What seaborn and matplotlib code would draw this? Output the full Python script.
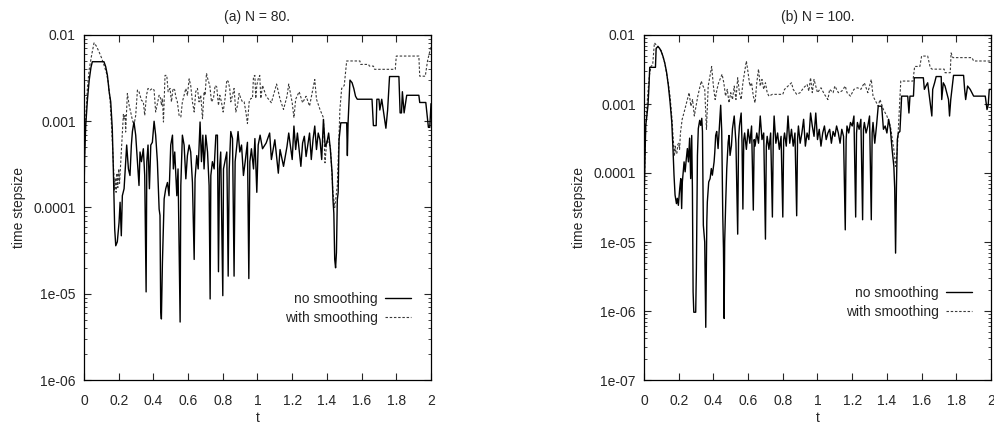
import numpy as np
import pandas as pd
import matplotlib
matplotlib.use("Agg")
import matplotlib.pyplot as plt
from matplotlib.ticker import FixedLocator, LogLocator, NullFormatter
from matplotlib.lines import Line2D
import seaborn as sns

# ---------------- data ----------------
# Panel (a) N = 80, no smoothing
a_ns_t = [0.000, 0.004, 0.010, 0.020, 0.030, 0.040, 0.048, 0.115, 0.125, 0.135, 0.145, 0.154,
          0.163, 0.169, 0.177, 0.183, 0.192, 0.202, 0.208, 0.215, 0.221, 0.231, 0.240, 0.246,
          0.256, 0.265, 0.273, 0.279, 0.288, 0.298, 0.308, 0.317, 0.323, 0.331, 0.342, 0.350,
          0.358, 0.362, 0.369, 0.377, 0.385, 0.394, 0.404, 0.413, 0.423, 0.433, 0.438, 0.442,
          0.446, 0.452, 0.462, 0.471, 0.481, 0.490, 0.500, 0.510, 0.515, 0.523, 0.535, 0.542,
          0.550, 0.554, 0.558, 0.567, 0.577, 0.587, 0.596, 0.606, 0.615, 0.625, 0.635, 0.640,
          0.650, 0.658, 0.669, 0.677, 0.685, 0.692, 0.702, 0.712, 0.721, 0.727, 0.731, 0.740,
          0.750, 0.760, 0.769, 0.775, 0.781, 0.788, 0.800, 0.804, 0.812, 0.823, 0.831, 0.837,
          0.846, 0.856, 0.865, 0.871, 0.881, 0.888, 0.898, 0.908, 0.919, 0.929, 0.942, 0.950,
          0.956, 0.965, 0.977, 0.985, 0.996, 1.004, 1.015, 1.029, 1.05, 1.07, 1.08, 1.10,
          1.12, 1.13, 1.15, 1.17, 1.18, 1.20, 1.21, 1.22, 1.23, 1.25, 1.26, 1.27,
          1.28, 1.30, 1.31, 1.32, 1.33, 1.34, 1.35, 1.36, 1.37, 1.38, 1.39, 1.40,
          1.41, 1.42, 1.43, 1.435, 1.44, 1.445, 1.45, 1.455, 1.46, 1.465, 1.47, 1.48,
          1.514, 1.518, 1.522, 1.533, 1.545, 1.555, 1.565, 1.575, 1.66, 1.668, 1.684, 1.688,
          1.70, 1.705, 1.716, 1.725, 1.74, 1.75, 1.761, 1.815, 1.822, 1.83, 1.835, 1.845,
          1.86, 1.93, 1.935, 1.97, 1.985, 1.993, 2.0]
a_ns_y = [1.5e-4, 4e-4, 9e-4, 1.8e-3, 3.0e-3, 4.2e-3, 4.9e-3, 4.9e-3, 4.3e-3, 3.4e-3, 2.2e-3, 1.68e-3,
          8.2e-4, 2.8e-4, 5.6e-5, 3.6e-5, 4.0e-5, 6.7e-5, 1.15e-4, 4.7e-5, 1.37e-4, 1.65e-4, 3.4e-4, 5.3e-4,
          2.8e-4, 2.35e-4, 5.3e-4, 7.6e-4, 9.8e-4, 6.9e-4, 3.4e-4, 1.8e-4, 4.4e-4, 3.4e-4, 4.8e-4, 2.35e-4,
          1.05e-5, 3.4e-4, 5.3e-4, 1.65e-4, 5.3e-4, 5.7e-4, 1.0e-3, 6.9e-4, 3.4e-4, 9.6e-5, 8.1e-5, 6.6e-6,
          5.1e-6, 2.3e-5, 1.26e-4, 1.65e-4, 1.95e-4, 1.37e-4, 5.3e-4, 6.9e-4, 2.8e-4, 4.4e-4, 1.37e-4, 2.8e-4,
          2.1e-5, 4.7e-6, 1.8e-4, 6.9e-4, 5.3e-4, 2.15e-4, 4.0e-4, 5.3e-4, 4.4e-4, 1.95e-4, 2.5e-5, 2.15e-4,
          4.0e-4, 2.8e-4, 9.8e-4, 3.4e-4, 6.9e-4, 2.8e-4, 6.9e-4, 4.4e-4, 1.8e-4, 8.7e-6, 2.35e-4, 3.4e-4,
          2.8e-4, 6.9e-4, 6.9e-4, 1.8e-5, 2.8e-4, 4.4e-4, 9.5e-6, 2.8e-4, 3.4e-4, 4.4e-4, 1.6e-5, 2.8e-4,
          7.6e-4, 6.3e-4, 1.6e-5, 3.4e-4, 5.3e-4, 7.6e-4, 4.4e-4, 5.3e-4, 2.35e-4, 3.4e-4, 5.7e-4, 1.5e-5,
          3.4e-4, 4.8e-4, 2.8e-4, 6.3e-4, 1.5e-4, 5.3e-4, 6.9e-4, 4.8e-4, 5.6e-4, 7.3e-4, 3.6e-4, 6.1e-4,
          2.5e-4, 4.7e-4, 3.0e-4, 5.1e-4, 7.3e-4, 3.6e-4, 8.8e-4, 4.7e-4, 7.3e-4, 3.0e-4, 5.6e-4, 6.7e-4,
          3.9e-4, 7.3e-4, 3.6e-4, 6.1e-4, 8.8e-4, 4.7e-4, 7.3e-4, 6.1e-4, 3.6e-4, 1.05e-3, 5.1e-4, 5.6e-4,
          7.3e-4, 4.7e-4, 2.5e-4, 1.23e-4, 8.6e-5, 2.5e-5, 2.0e-5, 3.0e-5, 1.23e-4, 1.5e-4, 6.1e-4, 9.6e-4,
          9.6e-4, 4.0e-4, 9.6e-4, 3.0e-3, 2.8e-3, 2.4e-3, 1.95e-3, 1.8e-3, 1.8e-3, 8.9e-4, 8.9e-4, 1.8e-3,
          1.8e-3, 1.35e-3, 1.8e-3, 1.35e-3, 8.3e-4, 1.35e-3, 3.3e-3, 3.3e-3, 1.25e-3, 1.25e-3, 2.2e-3, 1.25e-3,
          2.0e-3, 2.0e-3, 1.65e-3, 1.65e-3, 8.5e-4, 8.5e-4, 1.6e-3]

# Panel (a) N = 80, with smoothing
a_ws_t = [0.000, 0.004, 0.010, 0.020, 0.030, 0.045, 0.058, 0.070, 0.085, 0.100, 0.115, 0.130,
          0.140, 0.150, 0.160, 0.170, 0.175, 0.180, 0.185, 0.190, 0.195, 0.200, 0.205, 0.212,
          0.221, 0.227, 0.231, 0.237, 0.240, 0.250, 0.260, 0.269, 0.279, 0.288, 0.298, 0.308,
          0.317, 0.331, 0.342, 0.350, 0.360, 0.369, 0.381, 0.394, 0.404, 0.413, 0.423, 0.433,
          0.442, 0.446, 0.452, 0.458, 0.467, 0.477, 0.485, 0.496, 0.504, 0.513, 0.523, 0.529,
          0.538, 0.548, 0.558, 0.567, 0.577, 0.587, 0.596, 0.606, 0.615, 0.625, 0.635, 0.644,
          0.654, 0.663, 0.673, 0.683, 0.692, 0.698, 0.706, 0.715, 0.725, 0.735, 0.746, 0.756,
          0.765, 0.775, 0.783, 0.792, 0.802, 0.813, 0.823, 0.831, 0.840, 0.846, 0.856, 0.865,
          0.875, 0.885, 0.894, 0.904, 0.913, 0.923, 0.933, 0.942, 0.952, 0.962, 0.971, 0.977,
          0.985, 0.990, 0.996, 1.004, 1.013, 1.019, 1.029, 1.05, 1.08, 1.10, 1.11, 1.13,
          1.15, 1.17, 1.18, 1.20, 1.21, 1.22, 1.24, 1.26, 1.28, 1.30, 1.31, 1.33,
          1.34, 1.36, 1.38, 1.389, 1.40, 1.42, 1.435, 1.445, 1.45, 1.46, 1.47, 1.475,
          1.485, 1.50, 1.514, 1.59, 1.595, 1.64, 1.645, 1.668, 1.675, 1.794, 1.80, 1.93,
          1.935, 1.967, 1.98, 2.0]
a_ws_y = [1.5e-4, 5e-4, 1.1e-3, 2.5e-3, 4.0e-3, 6.0e-3, 8.1e-3, 7.5e-3, 6.5e-3, 5.5e-3, 4.5e-3, 3.6e-3,
          2.8e-3, 1.8e-3, 8.0e-4, 3.0e-4, 1.6e-4, 2.2e-4, 1.5e-4, 2.5e-4, 1.7e-4, 2.8e-4, 1.9e-4, 3.4e-4,
          6.9e-4, 1.2e-3, 1.07e-3, 1.17e-3, 7.5e-4, 2.1e-3, 1.53e-3, 1.28e-3, 1.03e-3, 9.0e-4, 1.17e-3, 2.3e-3,
          2.2e-3, 1.75e-3, 1.68e-3, 1.17e-3, 2.0e-3, 2.4e-3, 2.3e-3, 2.4e-3, 2.3e-3, 1.28e-3, 1.6e-3, 2.0e-3,
          1.84e-3, 1.53e-3, 1.84e-3, 9.8e-4, 3.4e-3, 3.4e-3, 2.2e-3, 2.4e-3, 1.68e-3, 2.4e-3, 2.3e-3, 1.92e-3,
          1.68e-3, 1.17e-3, 1.12e-3, 1.68e-3, 2.0e-3, 2.4e-3, 2.0e-3, 3.1e-3, 2.6e-3, 1.68e-3, 1.28e-3, 2.2e-3,
          2.4e-3, 1.68e-3, 2.0e-3, 1.07e-3, 2.2e-3, 2.0e-3, 3.6e-3, 3.0e-3, 2.6e-3, 1.68e-3, 1.84e-3, 2.6e-3,
          2.5e-3, 1.53e-3, 2.0e-3, 1.68e-3, 1.28e-3, 1.84e-3, 3.0e-3, 2.9e-3, 2.4e-3, 1.68e-3, 2.0e-3, 2.4e-3,
          1.28e-3, 1.53e-3, 2.1e-3, 1.84e-3, 1.68e-3, 1.68e-3, 1.28e-3, 9.4e-4, 1.68e-3, 1.84e-3, 1.84e-3, 3.3e-3,
          3.4e-3, 1.84e-3, 2.6e-3, 3.1e-3, 3.4e-3, 1.84e-3, 2.6e-3, 1.95e-3, 1.64e-3, 2.3e-3, 2.7e-3, 1.8e-3,
          1.37e-3, 1.95e-3, 2.7e-3, 1.64e-3, 1.1e-3, 1.8e-3, 2.2e-3, 1.64e-3, 1.95e-3, 1.5e-3, 1.9e-3, 3.05e-3,
          1.8e-3, 1.37e-3, 1.1e-3, 3.3e-4, 6.1e-4, 5.1e-4, 1.5e-4, 1.0e-4, 1.2e-4, 1.8e-4, 7.3e-4, 1.37e-3,
          2.4e-3, 2.6e-3, 5.0e-3, 5.0e-3, 4.56e-3, 4.56e-3, 4.36e-3, 4.36e-3, 4.0e-3, 4.0e-3, 5.7e-3, 5.7e-3,
          3.33e-3, 3.33e-3, 5.0e-3, 7.45e-3]

# Panel (b) N = 100, no smoothing
b_ns_t = [0.000, 0.010, 0.015, 0.023, 0.029, 0.033, 0.066, 0.070, 0.080, 0.090, 0.100, 0.110,
          0.120, 0.130, 0.140, 0.150, 0.160, 0.167, 0.173, 0.179, 0.187, 0.192, 0.198, 0.206,
          0.212, 0.217, 0.221, 0.231, 0.237, 0.244, 0.250, 0.256, 0.263, 0.269, 0.275, 0.279,
          0.283, 0.287, 0.298, 0.302, 0.308, 0.313, 0.321, 0.327, 0.333, 0.337, 0.342, 0.350,
          0.356, 0.362, 0.365, 0.373, 0.381, 0.388, 0.394, 0.404, 0.408, 0.413, 0.419, 0.427,
          0.435, 0.442, 0.448, 0.454, 0.458, 0.462, 0.465, 0.471, 0.477, 0.485, 0.490, 0.496,
          0.504, 0.510, 0.52, 0.53, 0.54, 0.545, 0.55, 0.56, 0.565, 0.57, 0.575, 0.58,
          0.59, 0.60, 0.61, 0.62, 0.63, 0.635, 0.64, 0.65, 0.66, 0.67, 0.68, 0.69,
          0.70, 0.705, 0.71, 0.72, 0.73, 0.74, 0.745, 0.75, 0.76, 0.77, 0.78, 0.79,
          0.80, 0.805, 0.81, 0.82, 0.83, 0.84, 0.85, 0.86, 0.87, 0.88, 0.885, 0.89,
          0.90, 0.91, 0.92, 0.93, 0.94, 0.95, 0.96, 0.97, 0.98, 0.99, 1.00, 1.01,
          1.02, 1.03, 1.04, 1.05, 1.06, 1.07, 1.08, 1.09, 1.10, 1.11, 1.12, 1.13,
          1.14, 1.15, 1.16, 1.165, 1.17, 1.18, 1.19, 1.20, 1.21, 1.22, 1.225, 1.23,
          1.24, 1.25, 1.26, 1.265, 1.27, 1.28, 1.29, 1.30, 1.31, 1.315, 1.32, 1.33,
          1.34, 1.35, 1.37, 1.38, 1.39, 1.40, 1.41, 1.42, 1.43, 1.44, 1.445, 1.45,
          1.455, 1.46, 1.466, 1.475, 1.485, 1.52, 1.527, 1.533, 1.553, 1.558, 1.61, 1.616,
          1.625, 1.635, 1.659, 1.664, 1.675, 1.684, 1.713, 1.716, 1.725, 1.735, 1.745, 1.755,
          1.761, 1.768, 1.784, 1.842, 1.848, 1.854, 1.865, 1.88, 1.90, 1.967, 1.977, 1.984,
          1.99, 2.0]
b_ns_y = [3.8e-5, 4.9e-4, 6.2e-4, 9.6e-4, 1.88e-3, 3.4e-3, 3.4e-3, 6.4e-3, 6.8e-3, 6.4e-3, 5.7e-3, 4.85e-3,
          3.9e-3, 2.9e-3, 1.88e-3, 1.08e-3, 5.5e-4, 2.26e-4, 9.3e-5, 4.8e-5, 3.6e-5, 4.3e-5, 3.4e-5, 6.0e-5,
          8.3e-5, 3.05e-5, 7.4e-5, 1.45e-4, 1.04e-4, 1.62e-4, 2.26e-4, 1.45e-4, 3.2e-4, 8.3e-5, 3.5e-4, 6.0e-5,
          1.9e-6, 9.6e-7, 9.6e-7, 4.1e-6, 1.8e-4, 4.4e-4, 5.8e-4, 4.9e-4, 6.2e-4, 4.0e-4, 1.75e-5, 1.0e-5,
          5.8e-7, 1.95e-5, 3.8e-5, 7.4e-5, 8.3e-5, 1.16e-4, 9.3e-5, 1.45e-4, 2.0e-4, 3.5e-4, 4.0e-4, 2.26e-4,
          4.9e-4, 9.6e-4, 4.0e-4, 2.4e-5, 8.0e-6, 7.8e-7, 1.0e-5, 3.8e-5, 1.16e-4, 2.8e-4, 3.5e-4, 1.8e-4,
          2.5e-4, 4.4e-4, 6.7e-4, 2.7e-4, 1.3e-5, 3.05e-4, 4.8e-4, 7.4e-4, 2.7e-4, 3.0e-5, 3.05e-4, 3.8e-4,
          2.2e-4, 4.3e-4, 2.7e-4, 4.8e-4, 2.9e-5, 3.05e-4, 2.45e-4, 3.8e-4, 2.7e-4, 6.7e-4, 3.05e-4, 3.8e-4,
          1.1e-5, 2.45e-4, 3.4e-4, 2.2e-4, 3.8e-4, 2.3e-5, 3.05e-4, 6.7e-4, 2.7e-4, 3.8e-4, 2.2e-4, 3.4e-4,
          2.3e-5, 3.05e-4, 3.8e-4, 2.45e-4, 6.7e-4, 2.7e-4, 4.3e-4, 2.45e-4, 3.8e-4, 2.4e-5, 3.05e-4, 4.8e-4,
          2.7e-4, 3.8e-4, 6.0e-4, 2.45e-4, 3.8e-4, 3.05e-4, 7.4e-4, 4.8e-4, 3.4e-4, 7.4e-4, 3.05e-4, 4.3e-4,
          2.45e-4, 3.8e-4, 4.8e-4, 3.05e-4, 3.8e-4, 4.3e-4, 2.7e-4, 4.0e-4, 3.4e-4, 4.8e-4, 3.8e-4, 2.7e-4,
          4.3e-4, 3.4e-4, 1.5e-5, 3.05e-4, 4.8e-4, 3.8e-4, 5.4e-4, 4.8e-4, 6.7e-4, 2.3e-5, 3.8e-4, 5.4e-4,
          4.3e-4, 6.0e-4, 2.1e-5, 4.3e-4, 5.4e-4, 3.8e-4, 4.8e-4, 6.7e-4, 2.1e-5, 3.8e-4, 5.4e-4, 2.7e-4,
          4.8e-4, 9.3e-4, 9.3e-4, 4.3e-4, 4.8e-4, 3.8e-4, 6.0e-4, 4.3e-4, 2.2e-4, 1.25e-4, 6.0e-5, 6.9e-6,
          6.4e-5, 3.05e-4, 3.8e-4, 4.0e-4, 1.3e-3, 1.3e-3, 7.4e-4, 1.3e-3, 1.3e-3, 2.4e-3, 2.4e-3, 1.63e-3,
          1.82e-3, 2.03e-3, 6.7e-4, 1.63e-3, 2.03e-3, 2.5e-3, 2.5e-3, 1.16e-3, 2.03e-3, 1.82e-3, 1.46e-3, 1.16e-3,
          6.7e-4, 1.16e-3, 2.6e-3, 2.6e-3, 1.63e-3, 1.16e-3, 1.82e-3, 1.63e-3, 1.3e-3, 1.3e-3, 8.3e-4, 9.7e-4,
          1.63e-3, 1.63e-3]

# Panel (b) N = 100, with smoothing
b_ws_t = [0.000, 0.010, 0.020, 0.030, 0.040, 0.050, 0.060, 0.070, 0.080, 0.100, 0.120, 0.140,
          0.150, 0.160, 0.170, 0.175, 0.180, 0.185, 0.190, 0.195, 0.200, 0.205, 0.210, 0.220,
          0.230, 0.240, 0.250, 0.260, 0.270, 0.280, 0.290, 0.310, 0.330, 0.340, 0.350, 0.360,
          0.370, 0.380, 0.390, 0.400, 0.410, 0.420, 0.430, 0.450, 0.460, 0.470, 0.480, 0.490,
          0.500, 0.510, 0.520, 0.530, 0.540, 0.550, 0.560, 0.570, 0.590, 0.600, 0.610, 0.620,
          0.630, 0.640, 0.650, 0.660, 0.670, 0.680, 0.690, 0.700, 0.710, 0.720, 0.740, 0.800,
          0.810, 0.830, 0.850, 0.860, 0.880, 0.900, 0.920, 0.940, 0.950, 0.960, 0.970, 0.980,
          0.990, 1.000, 1.020, 1.040, 1.060, 1.070, 1.090, 1.100, 1.120, 1.140, 1.160, 1.170,
          1.190, 1.210, 1.230, 1.250, 1.270, 1.290, 1.310, 1.320, 1.330, 1.350, 1.360, 1.380,
          1.400, 1.420, 1.440, 1.450, 1.460, 1.470, 1.480, 1.550, 1.560, 1.590, 1.600, 1.635,
          1.650, 1.660, 1.730, 1.735, 1.765, 1.770, 1.780, 1.890, 1.900, 2.000]
b_ws_y = [3.8e-5, 5.0e-4, 1.2e-3, 2.5e-3, 3.5e-3, 3.7e-3, 7.7e-3, 7.2e-3, 6.9e-3, 5.9e-3, 3.9e-3, 2.0e-3,
          1.3e-3, 6.7e-4, 2.7e-4, 1.75e-4, 2.45e-4, 1.9e-4, 1.95e-4, 2.6e-4, 2.7e-4, 2.2e-4, 3.8e-4, 6.0e-4,
          7.4e-4, 9.3e-4, 1.16e-3, 1.46e-3, 9.3e-4, 1.16e-3, 6.7e-4, 1.3e-3, 2.15e-3, 1.82e-3, 1.63e-3, 4.3e-4,
          1.82e-3, 2.54e-3, 3.5e-3, 1.82e-3, 1.16e-3, 1.6e-3, 2.03e-3, 2.7e-3, 2.03e-3, 1.3e-3, 1.63e-3, 1.04e-3,
          1.46e-3, 1.16e-3, 1.82e-3, 1.16e-3, 2.4e-3, 1.46e-3, 1.16e-3, 2.03e-3, 4.2e-3, 2.84e-3, 1.82e-3, 2.03e-3,
          1.3e-3, 1.04e-3, 2.03e-3, 3.2e-3, 1.82e-3, 2.27e-3, 1.63e-3, 2.03e-3, 1.46e-3, 1.3e-3, 1.38e-3, 1.38e-3,
          1.63e-3, 1.82e-3, 2.03e-3, 1.63e-3, 1.38e-3, 1.46e-3, 1.72e-3, 1.92e-3, 1.54e-3, 2.4e-3, 1.46e-3, 2.27e-3,
          1.82e-3, 1.46e-3, 1.72e-3, 1.38e-3, 1.16e-3, 1.63e-3, 1.46e-3, 1.82e-3, 1.46e-3, 1.54e-3, 1.82e-3, 1.46e-3,
          1.3e-3, 1.63e-3, 1.72e-3, 1.63e-3, 2.03e-3, 1.46e-3, 2.27e-3, 1.3e-3, 1.16e-3, 9.3e-4, 1.16e-3, 8.3e-4,
          6.7e-4, 4.8e-4, 2.2e-4, 1.25e-4, 2.2e-4, 6.7e-4, 2.15e-3, 2.15e-3, 3.5e-3, 3.5e-3, 4.95e-3, 4.95e-3,
          3.36e-3, 3.2e-3, 3.2e-3, 2.84e-3, 2.84e-3, 5.5e-3, 4.7e-3, 4.7e-3, 4.2e-3, 4.2e-3]

titles = ["(a) N = 80.", "(b) N = 100."]
series_labels = ["no smoothing", "with smoothing"]
x_ticks = [0, 0.2, 0.4, 0.6, 0.8, 1.0, 1.2, 1.4, 1.6, 1.8, 2.0]
x_tick_labels = ["0", "0.2", "0.4", "0.6", "0.8", "1", "1.2", "1.4", "1.6", "1.8", "2"]
a_y_ticks = [1e-6, 1e-5, 1e-4, 1e-3, 1e-2]
a_y_labels = ["1e-06", "1e-05", "0.0001", "0.001", "0.01"]
b_y_ticks = [1e-7, 1e-6, 1e-5, 1e-4, 1e-3, 1e-2]
b_y_labels = ["1e-07", "1e-06", "1e-05", "0.0001", "0.001", "0.01"]

# ---------------- style ----------------
sns.set_style("ticks")
plt.rcParams["font.family"] = ["Liberation Sans", "DejaVu Sans"]
plt.rcParams["font.size"] = 10

fig = plt.figure(figsize=(9.95, 4.23), dpi=100)
W, H = 995, 423
axA = fig.add_axes([84 / W, (H - 380) / H, 347 / W, 345 / H])
axB = fig.add_axes([644 / W, (H - 380) / H, 347 / W, 345 / H])

panels = [
    (axA, a_ns_t, a_ns_y, a_ws_t, a_ws_y, a_y_ticks, a_y_labels, titles[0], 0.255, 0.942),
    (axB, b_ns_t, b_ns_y, b_ws_t, b_ws_y, b_y_ticks, b_y_labels, titles[1], 0.273, 0.945),
]

solid_kw = dict(color="black", linewidth=1.0)
dash_kw = dict(color="#3a3a3a", linewidth=0.8, dashes=(2.2, 1.6))

for ax, t1, y1, t2, y2, yt, yl, title, leg_top, leg_right in panels:
    df1 = pd.DataFrame({"t": t1, "dt": y1})
    df2 = pd.DataFrame({"t": t2, "dt": y2})
    sns.lineplot(data=df2, x="t", y="dt", ax=ax, estimator=None, sort=False,
                 color=dash_kw["color"], linewidth=dash_kw["linewidth"],
                 dashes=False, legend=False)
    ax.lines[-1].set_dashes(dash_kw["dashes"])
    sns.lineplot(data=df1, x="t", y="dt", ax=ax, estimator=None, sort=False,
                 color=solid_kw["color"], linewidth=solid_kw["linewidth"], legend=False)

    ax.set_yscale("log")
    ax.set_xlim(0, 2)
    ax.set_ylim(yt[0], yt[-1])
    ax.set_xticks(x_ticks)
    ax.set_xticklabels(x_tick_labels)
    ax.yaxis.set_major_locator(FixedLocator(yt))
    ax.set_yticklabels(yl)
    ax.yaxis.set_minor_locator(LogLocator(base=10, subs=np.arange(2, 10), numticks=20))
    ax.yaxis.set_minor_formatter(NullFormatter())

    ax.tick_params(axis="both", which="major", direction="in", length=5, width=0.8,
                   top=True, right=True, labelsize=10, pad=6)
    ax.tick_params(axis="x", which="major", pad=10)
    ax.tick_params(axis="y", which="minor", direction="in", length=2.5, width=0.6,
                   left=True, right=True)
    ax.tick_params(axis="x", which="minor", bottom=False, top=False)
    for s in ax.spines.values():
        s.set_linewidth(0.9)
        s.set_color("black")

    ax.set_xlabel("t", fontsize=10, labelpad=2)
    ax.set_ylabel("time stepsize", fontsize=10)
    ax.yaxis.set_label_coords(-0.168, 0.5)
    ax.set_title(title, fontsize=10, pad=10)

    handles = [Line2D([], [], **solid_kw),
               Line2D([], [], color=dash_kw["color"], linewidth=dash_kw["linewidth"],
                      dashes=dash_kw["dashes"])]
    ax.legend(handles, series_labels, loc="upper right", bbox_to_anchor=(leg_right, leg_top),
              frameon=False, markerfirst=False, handlelength=1.85, handletextpad=0.55,
              labelspacing=0.35, borderpad=0, borderaxespad=0, fontsize=10)

fig.savefig("out.png", dpi=100)
